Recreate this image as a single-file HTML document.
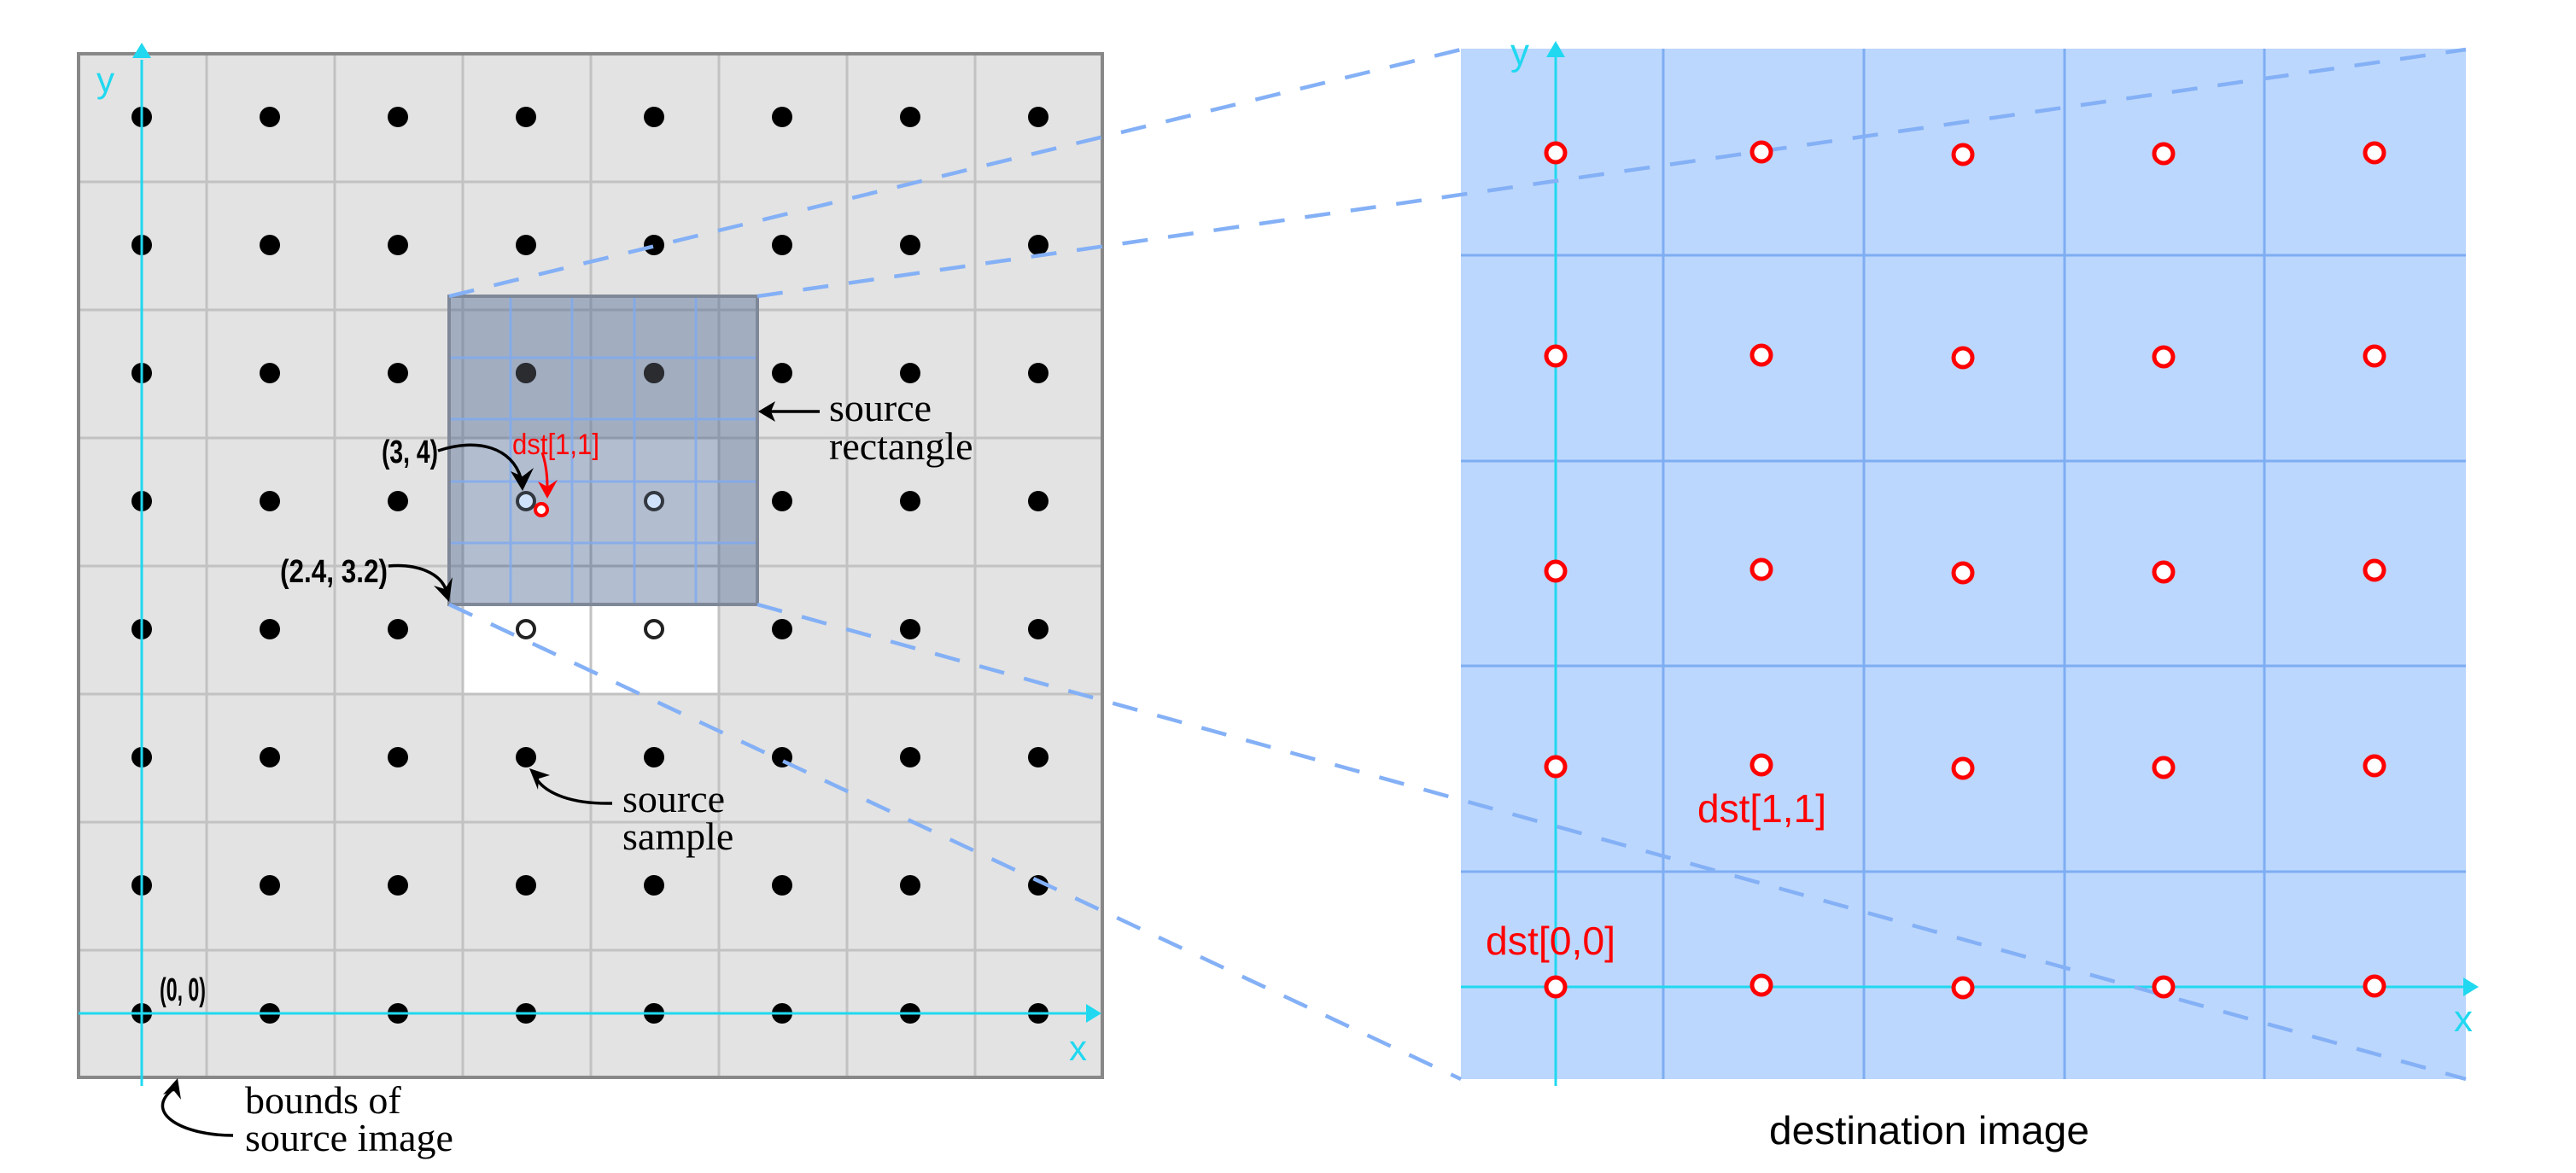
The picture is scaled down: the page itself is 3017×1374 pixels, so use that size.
<!DOCTYPE html>
<html><head><meta charset="utf-8"><style>
html,body{margin:0;padding:0;background:#fff;}
svg{display:block;}
.sans{font-family:"Liberation Sans",sans-serif;}
.serif{font-family:"Liberation Serif",serif;}
</style></head><body>
<svg width="3017" height="1374" viewBox="0 0 3017 1374" xmlns="http://www.w3.org/2000/svg">
<!-- LEFT PANEL -->
<rect x="92" y="63" width="1199" height="1199" fill="#e3e3e3"/>
<rect x="542" y="513" width="300" height="300" fill="#ffffff"/>
<g stroke="#c2c2c2" stroke-width="3">
<line x1="242" y1="63" x2="242" y2="1262"/><line x1="392" y1="63" x2="392" y2="1262"/>
<line x1="542" y1="63" x2="542" y2="1262"/><line x1="692" y1="63" x2="692" y2="1262"/>
<line x1="842" y1="63" x2="842" y2="1262"/><line x1="992" y1="63" x2="992" y2="1262"/>
<line x1="1142" y1="63" x2="1142" y2="1262"/>
<line x1="92" y1="213" x2="1291" y2="213"/><line x1="92" y1="363" x2="1291" y2="363"/>
<line x1="92" y1="513" x2="1291" y2="513"/><line x1="92" y1="663" x2="1291" y2="663"/>
<line x1="92" y1="813" x2="1291" y2="813"/><line x1="92" y1="963" x2="1291" y2="963"/>
<line x1="92" y1="1113" x2="1291" y2="1113"/>
</g>
<rect x="92" y="63" width="1199" height="1199" fill="none" stroke="#888" stroke-width="4"/>
<!-- dots -->
<g fill="#000">
<circle cx="166" cy="137" r="12"/><circle cx="316" cy="137" r="12"/><circle cx="466" cy="137" r="12"/><circle cx="616" cy="137" r="12"/><circle cx="766" cy="137" r="12"/><circle cx="916" cy="137" r="12"/><circle cx="1066" cy="137" r="12"/><circle cx="1216" cy="137" r="12"/>
<circle cx="166" cy="287" r="12"/><circle cx="316" cy="287" r="12"/><circle cx="466" cy="287" r="12"/><circle cx="616" cy="287" r="12"/><circle cx="766" cy="287" r="12"/><circle cx="916" cy="287" r="12"/><circle cx="1066" cy="287" r="12"/><circle cx="1216" cy="287" r="12"/>
<circle cx="166" cy="437" r="12"/><circle cx="316" cy="437" r="12"/><circle cx="466" cy="437" r="12"/><circle cx="616" cy="437" r="12"/><circle cx="766" cy="437" r="12"/><circle cx="916" cy="437" r="12"/><circle cx="1066" cy="437" r="12"/><circle cx="1216" cy="437" r="12"/>
<circle cx="166" cy="587" r="12"/><circle cx="316" cy="587" r="12"/><circle cx="466" cy="587" r="12"/><circle cx="916" cy="587" r="12"/><circle cx="1066" cy="587" r="12"/><circle cx="1216" cy="587" r="12"/>
<circle cx="166" cy="737" r="12"/><circle cx="316" cy="737" r="12"/><circle cx="466" cy="737" r="12"/><circle cx="916" cy="737" r="12"/><circle cx="1066" cy="737" r="12"/><circle cx="1216" cy="737" r="12"/>
<circle cx="166" cy="887" r="12"/><circle cx="316" cy="887" r="12"/><circle cx="466" cy="887" r="12"/><circle cx="616" cy="887" r="12"/><circle cx="766" cy="887" r="12"/><circle cx="916" cy="887" r="12"/><circle cx="1066" cy="887" r="12"/><circle cx="1216" cy="887" r="12"/>
<circle cx="166" cy="1037" r="12"/><circle cx="316" cy="1037" r="12"/><circle cx="466" cy="1037" r="12"/><circle cx="616" cy="1037" r="12"/><circle cx="766" cy="1037" r="12"/><circle cx="916" cy="1037" r="12"/><circle cx="1066" cy="1037" r="12"/><circle cx="1216" cy="1037" r="12"/>
<circle cx="166" cy="1187" r="12"/><circle cx="316" cy="1187" r="12"/><circle cx="466" cy="1187" r="12"/><circle cx="616" cy="1187" r="12"/><circle cx="766" cy="1187" r="12"/><circle cx="916" cy="1187" r="12"/><circle cx="1066" cy="1187" r="12"/><circle cx="1216" cy="1187" r="12"/>
</g>
<g fill="#fff" stroke="#222" stroke-width="4">
<circle cx="616" cy="737" r="10"/><circle cx="766" cy="737" r="10"/>
</g>
<!-- source axes -->
<line x1="166" y1="70" x2="166" y2="1272" stroke="#20d8f0" stroke-width="3"/>
<polygon points="166,50 155,68 177,68" fill="#20d8f0"/>
<line x1="92" y1="1187" x2="1272" y2="1187" stroke="#20d8f0" stroke-width="3"/>
<polygon points="1290,1187 1272,1176 1272,1198" fill="#20d8f0"/>
<text x="113" y="108" class="sans" font-size="42" fill="#20d8f0">y</text>
<text x="1252" y="1242" class="sans" font-size="42" fill="#20d8f0">x</text>
<!-- source rectangle overlay -->
<rect x="526" y="347" width="361" height="361" fill="rgba(76,104,146,0.43)" stroke="#7f8898" stroke-width="4"/>
<g stroke="#7faaf0" stroke-width="3" opacity="0.8">
<line x1="598" y1="349" x2="598" y2="706"/><line x1="670" y1="349" x2="670" y2="706"/>
<line x1="743" y1="349" x2="743" y2="706"/><line x1="815" y1="349" x2="815" y2="706"/>
<line x1="528" y1="419" x2="885" y2="419"/><line x1="528" y1="491" x2="885" y2="491"/>
<line x1="528" y1="564" x2="885" y2="564"/><line x1="528" y1="636" x2="885" y2="636"/>
</g>
<g fill="#2a2c30">
<circle cx="616" cy="437" r="12"/><circle cx="766" cy="437" r="12"/>
</g>
<g fill="#d0e2fa" stroke="#333840" stroke-width="4">
<circle cx="616" cy="587" r="10"/><circle cx="766" cy="587" r="10"/>
</g>
<circle cx="634" cy="597" r="7" fill="#fff" stroke="#ff0000" stroke-width="4"/>
<!-- DEST PANEL -->
<rect x="1711" y="57" width="1177" height="1207" fill="#bcd7fd"/>
<g stroke="#7eadf2" stroke-width="3">
<line x1="1948" y1="57" x2="1948" y2="1264"/><line x1="2183" y1="57" x2="2183" y2="1264"/>
<line x1="2418" y1="57" x2="2418" y2="1264"/><line x1="2652" y1="57" x2="2652" y2="1264"/>
<line x1="1711" y1="299" x2="2888" y2="299"/><line x1="1711" y1="540" x2="2888" y2="540"/>
<line x1="1711" y1="780" x2="2888" y2="780"/><line x1="1711" y1="1021" x2="2888" y2="1021"/>
</g>
<line x1="1822" y1="65" x2="1822" y2="1272" stroke="#20d8f0" stroke-width="3"/>
<polygon points="1822,48 1811,67 1833,67" fill="#20d8f0"/>
<line x1="1711" y1="1156" x2="2885" y2="1156" stroke="#20d8f0" stroke-width="3"/>
<polygon points="2903,1156 2885,1145 2885,1167" fill="#20d8f0"/>
<text x="1769" y="76" class="sans" font-size="44" fill="#20d8f0">y</text>
<text x="2874" y="1208" class="sans" font-size="44" fill="#20d8f0">x</text>
<!-- dashed projection lines -->
<g stroke="#84b0f6" stroke-width="4.5" stroke-dasharray="30 24" fill="none">
<line x1="526" y1="347" x2="1711" y2="58"/>
<line x1="887" y1="347" x2="2888" y2="58"/>
<line x1="526" y1="708" x2="1711" y2="1264"/>
<line x1="887" y1="708" x2="2888" y2="1264"/>
</g>
<!-- dest circles -->
<g fill="#fff" stroke="#ff0000" stroke-width="5">
<circle cx="1822" cy="179" r="11"/><circle cx="2063" cy="178" r="11"/><circle cx="2299" cy="181" r="11"/><circle cx="2534" cy="180" r="11"/><circle cx="2781" cy="179" r="11"/>
<circle cx="1822" cy="417" r="11"/><circle cx="2063" cy="416" r="11"/><circle cx="2299" cy="419" r="11"/><circle cx="2534" cy="418" r="11"/><circle cx="2781" cy="417" r="11"/>
<circle cx="1822" cy="669" r="11"/><circle cx="2063" cy="667" r="11"/><circle cx="2299" cy="671" r="11"/><circle cx="2534" cy="670" r="11"/><circle cx="2781" cy="668" r="11"/>
<circle cx="1822" cy="898" r="11"/><circle cx="2063" cy="896" r="11"/><circle cx="2299" cy="900" r="11"/><circle cx="2534" cy="899" r="11"/><circle cx="2781" cy="897" r="11"/>
<circle cx="1822" cy="1156" r="11"/><circle cx="2063" cy="1154" r="11"/><circle cx="2299" cy="1157" r="11"/><circle cx="2534" cy="1156" r="11"/><circle cx="2781" cy="1155" r="11"/>
</g>
<text x="1988" y="963" class="sans" font-size="46" fill="#ff0000" textLength="151" lengthAdjust="spacingAndGlyphs">dst[1,1]</text>
<text x="1740" y="1118" class="sans" font-size="46" fill="#ff0000" textLength="152" lengthAdjust="spacingAndGlyphs">dst[0,0]</text>
<text x="2072" y="1340" class="sans" font-size="46" fill="#000" textLength="375" lengthAdjust="spacingAndGlyphs">destination image</text>
<!-- labels left -->
<text x="447" y="542" class="sans" font-size="38" font-weight="bold" fill="#000" textLength="66" lengthAdjust="spacingAndGlyphs">(3, 4)</text>
<text x="328" y="682" class="sans" font-size="38" font-weight="bold" fill="#000" textLength="126" lengthAdjust="spacingAndGlyphs">(2.4, 3.2)</text>
<text x="187" y="1172" class="sans" font-size="38" font-weight="bold" fill="#000" textLength="54" lengthAdjust="spacingAndGlyphs">(0, 0)</text>
<text x="600" y="532" class="sans" font-size="34" fill="#ff0000" textLength="102" lengthAdjust="spacingAndGlyphs">dst[1,1]</text>
<text x="971" y="493" class="serif" font-size="46" fill="#000">source</text>
<text x="971" y="538" class="serif" font-size="46" fill="#000">rectangle</text>
<text x="729" y="951" class="serif" font-size="46" fill="#000">source</text>
<text x="729" y="995" class="serif" font-size="46" fill="#000">sample</text>
<text x="287" y="1304" class="serif" font-size="46" fill="#000">bounds of</text>
<text x="287" y="1348" class="serif" font-size="46" fill="#000">source image</text>
<!-- arrows -->
<g fill="none" stroke="#000" stroke-width="3.5">
<path d="M513,528 C560,512 600,525 610,560"/>
<path d="M455,663 C490,660 515,672 522,690"/>
<path d="M960,482 L900,482"/>
<path d="M717,941 C670,942 640,930 628,912"/>
<path d="M273,1330 C215,1330 170,1305 200,1278"/>
</g>
<polygon points="612,575 598,552 612,558 625,548" fill="#000"/>
<polygon points="526,705 508,686 521,690 530,676" fill="#000"/>
<polygon points="888,482 908,470 903,482 908,494" fill="#000"/>
<polygon points="620,900 644,908 631,912 630,925" fill="#000"/>
<polygon points="208,1263 212,1288 204,1278 191,1282" fill="#000"/>
<path d="M635,530 C640,545 641,560 641,570" fill="none" stroke="#ff0000" stroke-width="3"/>
<polygon points="641,584 630,564 641,570 653,562" fill="#ff0000"/>
</svg>
</body></html>
